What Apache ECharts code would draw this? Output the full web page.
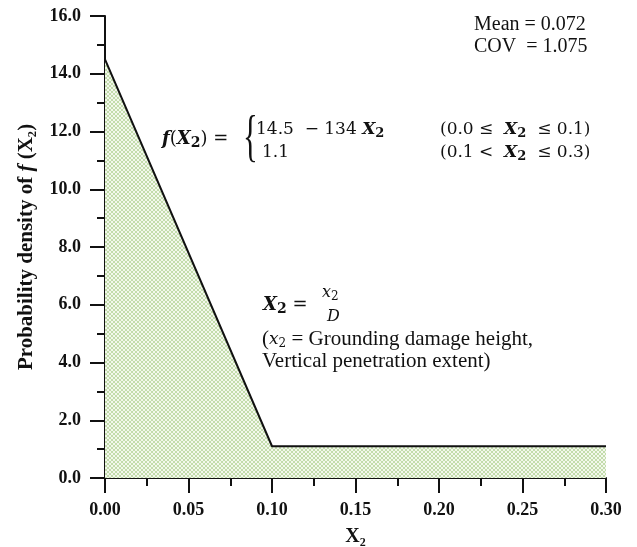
<!DOCTYPE html>
<html>
<head>
<meta charset="utf-8">
<script src="https://cdn.jsdelivr.net/npm/echarts@6/dist/echarts.min.js"></script>
<style>
  html, body { margin: 0; padding: 0; background: #fff; }
  #chart { width: 637px; height: 547px; }
</style>
</head>
<body>
<div id="chart"></div>
<script>
// Piecewise probability density of the normalised damage height X2
const xValues = [0.0, 0.1, 0.3];
const density = [14.5, 1.1, 1.1];
const xTicks = [0.0, 0.05, 0.10, 0.15, 0.20, 0.25, 0.30];
const yTicks = [0, 2, 4, 6, 8, 10, 12, 14, 16];

const SERIF = '"Liberation Serif", "Times New Roman", serif';
const MATH = '"DejaVu Serif", "Liberation Serif", serif';

// light green cross-hatch used to shade the area under the curve
function hatchPattern() {
  const c = document.createElement('canvas');
  c.width = 4; c.height = 4;
  const g = c.getContext('2d');
  g.fillStyle = '#f3f8ec';
  g.fillRect(0, 0, 4, 4);
  g.strokeStyle = '#b6d49c';
  g.lineWidth = 0.8;
  g.beginPath();
  g.moveTo(0, 0); g.lineTo(4, 4);
  g.moveTo(4, 0); g.lineTo(0, 4);
  g.stroke();
  return c;
}

// rich-text styles for the formula annotations
function mathRich(size) {
  return {
    i: { fontFamily: MATH, fontStyle: 'italic', fontWeight: 'bold', fontSize: size, fill: '#111' },
    n: { fontFamily: MATH, fontSize: size, fill: '#111' },
    s: { fontFamily: MATH, fontWeight: 'bold', fontSize: Math.round(size * 0.75), fill: '#111', padding: [8, 0, 0, 0] }
  };
}

const chart = echarts.init(document.getElementById('chart'));

const axisBlack = { color: '#111', width: 2 };

const option = {
  animation: false,
  backgroundColor: '#ffffff',
  grid: { left: 105, right: 31, top: 16, bottom: 69, outerBoundsMode: 'none', containLabel: false },
  xAxis: {
    type: 'value',
    min: xTicks[0],
    max: xTicks[xTicks.length - 1],
    interval: 0.05,
    name: 'X₂',
    nameLocation: 'middle',
    nameGap: 49,
    nameTextStyle: { fontFamily: SERIF, fontWeight: 'bold', fontSize: 20, color: '#111' },
    axisLine: { show: true, lineStyle: axisBlack },
    axisTick: { show: true, inside: false, length: 15, lineStyle: axisBlack },
    minorTick: { show: true, splitNumber: 2, length: 8, lineStyle: axisBlack },
    splitLine: { show: false },
    axisLabel: {
      margin: 23,
      fontFamily: SERIF, fontWeight: 'bold', fontSize: 18, color: '#111',
      formatter: v => v.toFixed(2)
    }
  },
  yAxis: {
    type: 'value',
    min: yTicks[0],
    max: yTicks[yTicks.length - 1],
    interval: 2,
    name: '{b|Probability density of }{i|f}{b| (X₂)}',
    nameLocation: 'middle',
    nameRotate: 90,
    nameGap: 68,
    nameTextStyle: {
      rich: {
        b: { fontFamily: SERIF, fontWeight: 'bold', fontSize: 21, color: '#111' },
        i: { fontFamily: SERIF, fontWeight: 'bold', fontStyle: 'italic', fontSize: 21, color: '#111' }
      }
    },
    axisLine: { show: true, lineStyle: axisBlack },
    axisTick: { show: true, inside: false, length: 15, lineStyle: axisBlack },
    minorTick: { show: true, splitNumber: 2, length: 8, lineStyle: axisBlack },
    splitLine: { show: false },
    axisLabel: {
      margin: 24,
      fontFamily: SERIF, fontWeight: 'bold', fontSize: 18, color: '#111',
      formatter: v => v.toFixed(1)
    }
  },
  series: [{
    type: 'line',
    data: xValues.map((x, i) => [x, density[i]]),
    symbol: 'none',
    lineStyle: { color: '#111', width: 2 },
    areaStyle: { color: { image: hatchPattern(), repeat: 'repeat' }, opacity: 1 },
    z: 2
  }],
  graphic: [
    // summary statistics
    { type: 'text', left: 474, top: 15,
      style: { text: 'Mean = 0.072', font: '20px ' + SERIF, fill: '#111' } },
    { type: 'text', left: 474, top: 37,
      style: { text: 'COV  = 1.075', font: '20px ' + SERIF, fill: '#111' } },

    // piecewise definition of f(X2)
    { type: 'text', left: 162, top: 130,
      style: { text: '{i|f}{n|(}{i|X}{s|2}{n|) =}', rich: mathRich(18) } },
    { type: 'text', left: 243, top: 112,
      style: { text: '{', font: '56px ' + SERIF, fill: '#111' }, scaleX: 0.55 },
    { type: 'text', left: 256, top: 121,
      style: { text: '{n|14.5  − 134 }{i|X}{s|2}', rich: mathRich(17) } },
    { type: 'text', left: 262, top: 144,
      style: { text: '1.1', font: '17px ' + MATH, fill: '#111' } },
    { type: 'text', left: 440, top: 121,
      style: { text: '{n|(0.0 ≤  }{i|X}{s|2}{n|  ≤ 0.1)}', rich: mathRich(17) } },
    { type: 'text', left: 440, top: 144,
      style: { text: '{n|(0.1 <  }{i|X}{s|2}{n|  ≤ 0.3)}', rich: mathRich(17) } },

    // definition of X2
    { type: 'text', left: 263, top: 296,
      style: { text: '{i|X}{s|2}{n| =}', rich: mathRich(18) } },
    { type: 'text', left: 322, top: 285,
      style: {
        text: '{i|x}{s|2}',
        rich: {
          i: { fontFamily: MATH, fontStyle: 'italic', fontSize: 16, fill: '#111' },
          s: { fontFamily: MATH, fontSize: 12, fill: '#111', padding: [7, 0, 0, 0] }
        }
      } },
    { type: 'text', left: 327, top: 309,
      style: { text: 'D', font: 'italic 16px ' + MATH, fill: '#111' } },
    { type: 'text', left: 262, top: 329,
      style: {
        text: '{n|(}{i|x}{s|2}{n| = Grounding damage height,}',
        rich: {
          i: { fontFamily: MATH, fontStyle: 'italic', fontSize: 17, fill: '#111' },
          n: { fontFamily: SERIF, fontSize: 21, fill: '#111' },
          s: { fontFamily: MATH, fontSize: 12, fill: '#111', padding: [8, 0, 0, 0] }
        }
      } },
    { type: 'text', left: 262, top: 351,
      style: { text: 'Vertical penetration extent)', font: '21px ' + SERIF, fill: '#111' } }
  ]
};

chart.setOption(option);
</script>
</body>
</html>
